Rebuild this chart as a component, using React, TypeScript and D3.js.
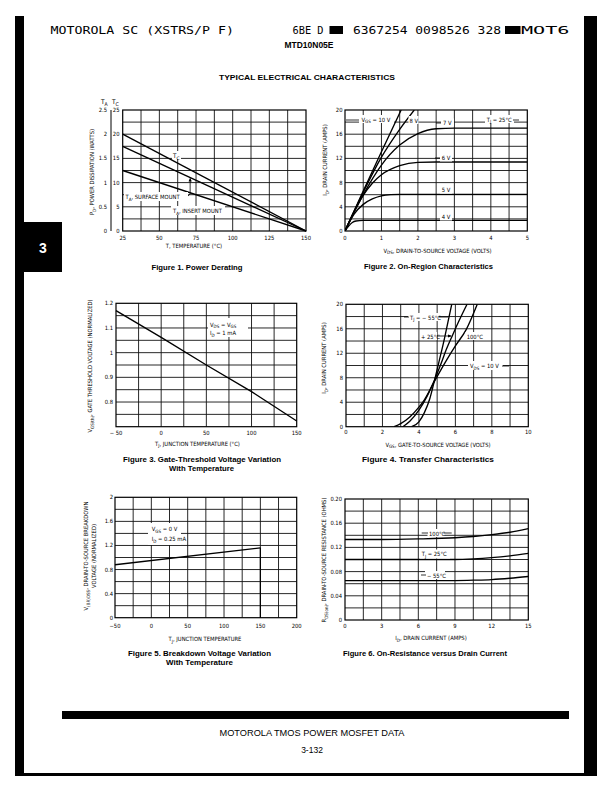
import React from "react";
import * as d3 from "d3";

const NARROW = "'Liberation Sans Narrow','DejaVu Sans Condensed','Arial Narrow',sans-serif";
const SANS = "'Liberation Sans',Arial,Helvetica,sans-serif";
const MONO = "'DejaVu Sans Mono','Liberation Mono',monospace";

// ---------------- Data ----------------
// Figure 1. Power Derating
const f1Temp = [25, 150];
const f1TC = [20, 0];
const f1SurfaceMount = [17.5, 0];
const f1InsertMount = [12.5, 0];
const f1XTicks = [25, 50, 75, 100, 125, 150];
const f1TCTicks = [0, 5, 10, 15, 20, 25];
const f1TATicks = [0, 0.5, 1, 1.5, 2, 2.5];
const f1TALabels = ["0", "0.5", "1", "1.5", "2", "2.5"];

// Figure 2. On-Region Characteristics
const f2XTicks = [0, 1, 2, 3, 4, 5];
const f2YTicks = [0, 4, 8, 12, 16, 20];
const f2Vds10 = [0, 0.5, 1.0, 1.54];
const f2Id10 = [0, 6.6, 13.1, 20];
const f2Vds8 = [0, 0.5, 1.0, 1.5, 1.9];
const f2Id8 = [0, 6.4, 12.2, 16.8, 20];
const f2Vds7 = [0, 0.5, 1.0, 1.5, 2.0, 2.5, 3, 5];
const f2Id7 = [0, 6.0, 10.9, 14.2, 16.1, 16.9, 17, 17];
const f2Vds6 = [0, 0.25, 0.5, 0.75, 1.0, 1.5, 2.0, 2.5, 5];
const f2Id6 = [0, 3.2, 5.9, 7.9, 9.3, 10.8, 11.35, 11.4, 11.4];
const f2Vds5 = [0, 0.25, 0.5, 0.75, 1.0, 1.25, 1.5, 5];
const f2Id5 = [0, 2.8, 4.4, 5.3, 5.8, 6.0, 6.05, 6.05];
const f2Vds4 = [0, 0.1, 0.2, 0.3, 0.5, 5];
const f2Id4 = [0, 0.8, 1.4, 1.65, 1.75, 1.75];

// Figure 3. Gate-Threshold Voltage Variation
const f3XTicks = [-50, 0, 50, 100, 150];
const f3XLabels = ["\u2212 50", "0", "50", "100", "150"];
const f3YTicks = [0.8, 0.9, 1, 1.1, 1.2];
const f3YLabels = ["0.8", "0.9", "1", "1.1", "1.2"];
const f3Temp = [-50, 0, 50, 100, 150];
const f3Vth = [1.17, 1.062, 0.95, 0.842, 0.723];

// Figure 4. Transfer Characteristics
const f4XTicks = [0, 2, 4, 6, 8, 10];
const f4YTicks = [0, 4, 8, 12, 16, 20];
const f4VgsM55 = [3.6, 4.0, 4.3, 4.6, 4.85, 5.1, 5.4, 5.6, 5.8];
const f4IdM55 = [0, 0.8, 2.3, 4.6, 7.5, 10.6, 14.4, 17.2, 20];
const f4Vgs25 = [3.12, 3.5, 4.0, 4.45, 4.85, 5.2, 5.5, 5.85, 6.2, 6.64];
const f4Id25 = [0, 0.9, 2.7, 5.0, 7.6, 10.2, 12.6, 15, 17.3, 20];
const f4Vgs100 = [2.64, 3.0, 3.5, 4.0, 4.3, 4.85, 5.5, 6.0, 6.6, 7.2];
const f4Id100 = [0, 0.5, 1.6, 3.2, 4.4, 7.4, 10.8, 13.2, 15.9, 20];

// Figure 5. Breakdown Voltage Variation
const f5XTicks = [-50, 0, 50, 100, 150, 200];
const f5XLabels = ["\u221250", "0", "50", "100", "150", "200"];
const f5YTicks = [0, 0.4, 0.8, 1.2, 1.6, 2];
const f5YLabels = ["0", "0.4", "0.8", "1.2", "1.6", "2"];
const f5Temp = [-50, 150];
const f5BV = [0.88, 1.16];

// Figure 6. On-Resistance versus Drain Current
const f6XTicks = [0, 3, 6, 9, 12, 15];
const f6YTicks = [0, 0.04, 0.08, 0.12, 0.16, 0.2];
const f6YLabels = ["0", "0.04", "0.08", "0.12", "0.16", "0.20"];
const f6Id = [0, 3, 6, 9, 10.5, 12, 13.5, 15];
const f6R100 = [0.133, 0.133, 0.134, 0.136, 0.138, 0.141, 0.145, 0.151];
const f6R25 = [0.1, 0.1, 0.1, 0.1, 0.101, 0.103, 0.106, 0.11];
const f6RM55 = [0.065, 0.065, 0.065, 0.0652, 0.0658, 0.0668, 0.069, 0.072];

// ---------------- Helpers ----------------
type Part = string | [string];
function Rich({ parts, fs }: { parts: Part[]; fs: number }) {
  let sub = false;
  return (
    <>
      {parts.map((p, i) => {
        if (Array.isArray(p)) {
          const el = (
            <tspan key={i} dy={sub ? 0 : fs * 0.3} fontSize={fs * 0.78}>
              {p[0]}
            </tspan>
          );
          sub = true;
          return el;
        }
        const el = (
          <tspan key={i} dy={sub ? -fs * 0.3 : 0}>
            {p}
          </tspan>
        );
        sub = false;
        return el;
      })}
    </>
  );
}

function Txt(props: any) {
  const { x, y, fs = 6, anchor = "start", family = NARROW, weight = "normal", rotate = false, fill = "#000", len, parts, children } = props;
  return (
    <text
      x={x}
      y={y}
      fontSize={fs}
      fontFamily={family}
      fontWeight={weight}
      textAnchor={anchor}
      fill={fill}
      transform={rotate ? `rotate(-90 ${x} ${y})` : undefined}
      textLength={len}
      lengthAdjust={len ? "spacingAndGlyphs" : undefined}
    >
      {parts ? <Rich parts={parts} fs={fs} /> : children}
    </text>
  );
}

function Frame({ x, y, nx, ny }: any) {
  const [xa, xb] = x.domain();
  const [ya, yb] = y.domain();
  const [l, r] = x.range();
  const [b, t] = y.range();
  return (
    <g>
      {d3.range(1, nx).map((i) => {
        const px = x(xa + ((xb - xa) * i) / nx);
        return <line key={"gx" + i} x1={px} x2={px} y1={t} y2={b} stroke="#111" strokeWidth={0.9} />;
      })}
      {d3.range(1, ny).map((i) => {
        const py = y(ya + ((yb - ya) * i) / ny);
        return <line key={"gy" + i} x1={l} x2={r} y1={py} y2={py} stroke="#111" strokeWidth={0.9} />;
      })}
      <rect x={l} y={t} width={r - l} height={b - t} fill="none" stroke="#000" strokeWidth={1.2} />
    </g>
  );
}

function XLabels({ x, ticks, labels, y }: any) {
  return (
    <g>
      {ticks.map((v: number, i: number) => (
        <Txt key={i} x={x(v)} y={y} fs={5.8} anchor="middle">
          {labels ? labels[i] : String(v)}
        </Txt>
      ))}
    </g>
  );
}

function YLabels({ y, ticks, labels, x }: any) {
  return (
    <g>
      {ticks.map((v: number, i: number) => (
        <Txt key={i} x={x} y={y(v) + 2} fs={5.8} anchor="end">
          {labels ? labels[i] : String(v)}
        </Txt>
      ))}
    </g>
  );
}

function curvePath(x: any, y: any, xs: number[], ys: number[], smooth = true) {
  const pts = xs.map((v, i) => [v, ys[i]] as [number, number]);
  const gen = d3
    .line<[number, number]>()
    .x((d) => x(d[0]))
    .y((d) => y(d[1]));
  if (smooth) gen.curve(d3.curveMonotoneX);
  return gen(pts) || "";
}

function LabelBox({ x, y, w, h }: any) {
  return <rect x={x} y={y} width={w} height={h} fill="#fff" />;
}

const LINE = { fill: "none", stroke: "#000", strokeWidth: 1.35 };

// ---------------- Figures ----------------
function Fig1() {
  const x = d3.scaleLinear().domain([25, 150]).range([122.7, 306]);
  const y = d3.scaleLinear().domain([0, 25]).range([231, 110]);
  const yTA = d3.scaleLinear().domain([0, 2.5]).range([231, 110]);
  const surf = d3.scaleLinear().domain(f1Temp).range(f1SurfaceMount);
  const ax = x(71);
  const ay = y(surf(71));
  return (
    <g>
      <Frame x={x} y={y} nx={10} ny={10} />
      <path d={curvePath(x, y, f1Temp, f1TC, false)} {...LINE} />
      <path d={curvePath(x, y, f1Temp, f1SurfaceMount, false)} {...LINE} />
      <path d={curvePath(x, y, f1Temp, f1InsertMount, false)} {...LINE} />
      <LabelBox x={172} y={151} w={9} h={8} />
      <Txt x={173} y={158} fs={6.2} parts={["T", ["C"]]} />
      <LabelBox x={124} y={192} w={64} h={9} />
      <Txt x={125.5} y={199} fs={5.8} parts={["T", ["A"], ", SURFACE MOUNT"]} />
      <line x1={ax} x2={ax} y1={ay + 3} y2={194} stroke="#000" strokeWidth={0.8} />
      <line x1={188} x2={ax} y1={196} y2={194} stroke="#000" strokeWidth={0.8} />
      <polygon points={`${ax},${ay} ${ax - 1.6},${ay + 4} ${ax + 1.6},${ay + 4}`} fill="#000" />
      <LabelBox x={171} y={206} w={54} h={9} />
      <Txt x={173} y={213} fs={5.8} parts={["T", ["A"], ", INSERT MOUNT"]} />
      <line x1={111} x2={111} y1={110} y2={231} stroke="#000" strokeWidth={1} />
      <XLabels x={x} ticks={f1XTicks} y={240} />
      <YLabels y={y} ticks={f1TCTicks} x={119.5} />
      <YLabels y={yTA} ticks={f1TATicks} labels={f1TALabels} x={107} />
      <Txt x={101} y={104} fs={6.5} parts={["T", ["A"]]} />
      <Txt x={112} y={104} fs={6.5} parts={["T", ["C"]]} />
      <Txt x={94} y={172} fs={5.8} anchor="middle" rotate parts={["P", ["D"], ", POWER DISSIPATION (WATTS)"]} />
      <Txt x={194} y={248} fs={5.8} anchor="middle">T, TEMPERATURE (°C)</Txt>
      <Txt x={197} y={270} fs={7} anchor="middle" family={SANS} weight="bold" len={91}>
        Figure 1. Power Derating
      </Txt>
    </g>
  );
}

function Fig2() {
  const x = d3.scaleLinear().domain([0, 5]).range([345, 527.3]);
  const y = d3.scaleLinear().domain([0, 20]).range([231, 110]);
  return (
    <g>
      <Frame x={x} y={y} nx={10} ny={10} />
      <defs>
        <clipPath id="c2">
          <rect x={345} y={110} width={182.3} height={121} />
        </clipPath>
      </defs>
      <g clipPath="url(#c2)">
        <path d={curvePath(x, y, f2Vds10, f2Id10)} {...LINE} />
        <path d={curvePath(x, y, f2Vds8, f2Id8)} {...LINE} />
        <path d={curvePath(x, y, f2Vds7, f2Id7)} {...LINE} />
        <path d={curvePath(x, y, f2Vds6, f2Id6)} {...LINE} />
        <path d={curvePath(x, y, f2Vds5, f2Id5)} {...LINE} />
        <path d={curvePath(x, y, f2Vds4, f2Id4)} {...LINE} />
      </g>
      <LabelBox x={359} y={115} w={35} h={8} />
      <line x1={346} x2={359} y1={120} y2={120} stroke="#000" strokeWidth={0.8} />
      <Txt x={361.5} y={121.5} fs={5.8} parts={["V", ["GS"], " = 10 V"]} />
      <LabelBox x={408.5} y={116} w={10} h={8} />
      <Txt x={409.5} y={122.5} fs={5.8}>8 V</Txt>
      <LabelBox x={441} y={118.5} w={13} h={8} />
      <line x1={436} x2={441} y1={123} y2={123} stroke="#000" strokeWidth={0.8} />
      <Txt x={443} y={125} fs={5.8}>7 V</Txt>
      <LabelBox x={440} y={153.5} w={12} h={8} />
      <line x1={435} x2={440} y1={158} y2={158} stroke="#000" strokeWidth={0.8} />
      <Txt x={441.7} y={160} fs={5.8}>6 V</Txt>
      <LabelBox x={440} y={185.5} w={12} h={8} />
      <Txt x={441.7} y={192} fs={5.8}>5 V</Txt>
      <LabelBox x={440} y={212.5} w={12} h={8} />
      <Txt x={441.7} y={219} fs={5.8}>4 V</Txt>
      <LabelBox x={485} y={115} w={29} h={8} />
      <Txt x={486.7} y={121.5} fs={5.8} parts={["T", ["J"], " = 25°C"]} />
      <line x1={513} x2={519} y1={120} y2={120} stroke="#000" strokeWidth={0.8} />
      <XLabels x={x} ticks={f2XTicks} y={240} />
      <YLabels y={y} ticks={f2YTicks} x={342.5} />
      <Txt x={327} y={160} fs={5.8} anchor="middle" rotate parts={["I", ["D"], ", DRAIN CURRENT (AMPS)"]} />
      <Txt x={437.5} y={252.5} fs={5.8} anchor="middle" parts={["V", ["DS"], ", DRAIN-TO-SOURCE VOLTAGE (VOLTS)"]} />
      <Txt x={428.5} y={268.5} fs={7} anchor="middle" family={SANS} weight="bold" len={129}>
        Figure 2. On-Region Characteristics
      </Txt>
    </g>
  );
}

function Fig3() {
  const x = d3.scaleLinear().domain([-50, 150]).range([116, 296.7]);
  const y = d3.scaleLinear().domain([0.7, 1.2]).range([426.7, 303.3]);
  return (
    <g>
      <Frame x={x} y={y} nx={8} ny={10} />
      <path d={curvePath(x, y, f3Temp, f3Vth, false)} {...LINE} />
      <LabelBox x={208} y={318} w={40} h={19} />
      <Txt x={210} y={326.5} fs={5.8} parts={["V", ["DS"], " = V", ["GS"]]} />
      <Txt x={210} y={335} fs={5.8} parts={["I", ["D"], " = 1 mA"]} />
      <XLabels x={x} ticks={f3XTicks} labels={f3XLabels} y={435} />
      <YLabels y={y} ticks={f3YTicks} labels={f3YLabels} x={113} />
      <Txt x={92} y={366} fs={5.8} anchor="middle" rotate parts={["V", ["GS(th)"], ", GATE THRESHOLD VOLTAGE (NORMALIZED)"]} />
      <Txt x={197.5} y={445.5} fs={5.8} anchor="middle" parts={["T", ["J"], ", JUNCTION TEMPERATURE (°C)"]} />
      <Txt x={202} y={461.5} fs={7} anchor="middle" family={SANS} weight="bold" len={158}>
        Figure 3. Gate-Threshold Voltage Variation
      </Txt>
      <Txt x={201.5} y={470.5} fs={7} anchor="middle" family={SANS} weight="bold" len={65}>
        With Temperature
      </Txt>
    </g>
  );
}

function Fig4() {
  const x = d3.scaleLinear().domain([0, 10]).range([346, 528.3]);
  const y = d3.scaleLinear().domain([0, 20]).range([426.7, 304.3]);
  return (
    <g>
      <Frame x={x} y={y} nx={10} ny={10} />
      <defs>
        <clipPath id="c4">
          <rect x={346} y={304.3} width={182.3} height={122.4} />
        </clipPath>
      </defs>
      <g clipPath="url(#c4)">
        <path d={curvePath(x, y, f4VgsM55, f4IdM55)} {...LINE} />
        <path d={curvePath(x, y, f4Vgs25, f4Id25)} {...LINE} />
        <path d={curvePath(x, y, f4Vgs100, f4Id100)} {...LINE} />
      </g>
      <LabelBox x={408} y={313} w={31} h={8} />
      <line x1={404} x2={409} y1={317} y2={317} stroke="#000" strokeWidth={0.8} />
      <Txt x={410} y={319.5} fs={5.8} parts={["T", ["J"], " = \u2212 55°C"]} />
      <line x1={438.5} x2={448} y1={317} y2={317} stroke="#000" strokeWidth={0.8} />
      <LabelBox x={420} y={332} w={17} h={8} />
      <Txt x={421} y={338.5} fs={5.8}>+ 25°C</Txt>
      <line x1={437} x2={451} y1={336} y2={336} stroke="#000" strokeWidth={0.8} />
      <polygon points="452,336 448,334.4 448,337.6" fill="#000" />
      <LabelBox x={465.5} y={332} w={16} h={8} />
      <Txt x={466.7} y={338.5} fs={5.8}>100°C</Txt>
      <LabelBox x={468} y={361} w={35} h={9} />
      <Txt x={470} y={368} fs={5.8} parts={["V", ["DS"], " = 10 V"]} />
      <line x1={502} x2={509} y1={366} y2={366} stroke="#000" strokeWidth={0.8} />
      <XLabels x={x} ticks={f4XTicks} y={434} />
      <YLabels y={y} ticks={f4YTicks} x={343} />
      <Txt x={326} y={358} fs={5.8} anchor="middle" rotate parts={["I", ["D"], ", DRAIN CURRENT (AMPS)"]} />
      <Txt x={438} y={446.5} fs={5.8} anchor="middle" parts={["V", ["GS"], ", GATE-TO-SOURCE VOLTAGE (VOLTS)"]} />
      <Txt x={428} y={461.5} fs={7} anchor="middle" family={SANS} weight="bold" len={132}>
        Figure 4. Transfer Characteristics
      </Txt>
    </g>
  );
}

function Fig5() {
  const x = d3.scaleLinear().domain([-50, 200]).range([115, 296.7]);
  const y = d3.scaleLinear().domain([0, 2]).range([617.7, 497.3]);
  return (
    <g>
      <Frame x={x} y={y} nx={10} ny={10} />
      <path d={curvePath(x, y, f5Temp, f5BV, false)} {...LINE} />
      <line x1={x(150)} x2={x(150)} y1={y(f5BV[1])} y2={617.7} stroke="#000" strokeWidth={1.2} />
      <LabelBox x={148} y={523} w={33} h={22} />
      <Txt x={151.7} y={531} fs={5.8} parts={["V", ["GS"], " = 0 V"]} />
      <Txt x={151.7} y={541} fs={5.8} parts={["I", ["D"], " = 0.25 mA"]} />
      <XLabels x={x} ticks={f5XTicks} labels={f5XLabels} y={628} />
      <YLabels y={y} ticks={f5YTicks} labels={f5YLabels} x={113} />
      <Txt x={88} y={556} fs={5.8} anchor="middle" rotate parts={["V", ["(BR)DSS"], ", DRAIN-TO-SOURCE BREAKDOWN"]} />
      <Txt x={95.5} y={556} fs={5.8} anchor="middle" rotate>VOLTAGE (NORMALIZED)</Txt>
      <Txt x={205} y={641} fs={5.8} anchor="middle" parts={["T", ["J"], ", JUNCTION TEMPERATURE"]} />
      <Txt x={199.5} y={655.5} fs={7} anchor="middle" family={SANS} weight="bold" len={143}>
        Figure 5. Breakdown Voltage Variation
      </Txt>
      <Txt x={199.5} y={664.5} fs={7} anchor="middle" family={SANS} weight="bold" len={67}>
        With Temperature
      </Txt>
    </g>
  );
}

function Fig6() {
  const x = d3.scaleLinear().domain([0, 15]).range([345, 528.3]);
  const y = d3.scaleLinear().domain([0, 0.2]).range([620, 499]);
  return (
    <g>
      <Frame x={x} y={y} nx={10} ny={10} />
      <path d={curvePath(x, y, f6Id, f6R100)} {...LINE} />
      <path d={curvePath(x, y, f6Id, f6R25)} {...LINE} />
      <path d={curvePath(x, y, f6Id, f6RM55)} {...LINE} />
      <LabelBox x={427.5} y={529} w={17} h={8} />
      <line x1={421.7} x2={428} y1={533} y2={533} stroke="#000" strokeWidth={0.8} />
      <Txt x={429} y={535.5} fs={5.8}>100°C</Txt>
      <line x1={443.5} x2={451.7} y1={533} y2={533} stroke="#000" strokeWidth={0.8} />
      <LabelBox x={420} y={549.5} w={30} h={9} />
      <Txt x={421.7} y={556} fs={5.8} parts={["T", ["J"], " = 25°C"]} />
      <LabelBox x={425} y={571} w={20} h={8} />
      <line x1={421} x2={426} y1={575} y2={575} stroke="#000" strokeWidth={0.8} />
      <Txt x={427} y={577.5} fs={5.8}>{"\u2212 55°C"}</Txt>
      <XLabels x={x} ticks={f6XTicks} y={628} />
      <YLabels y={y} ticks={f6YTicks} labels={f6YLabels} x={342} />
      <Txt x={326} y={560} fs={5.8} anchor="middle" rotate parts={["R", ["DS(on)"], ", DRAIN-TO-SOURCE RESISTANCE (OHMS)"]} />
      <Txt x={431} y={640} fs={5.8} anchor="middle" parts={["I", ["D"], ", DRAIN CURRENT (AMPS)"]} />
      <Txt x={425} y={655.5} fs={7} anchor="middle" family={SANS} weight="bold" len={164}>
        Figure 6. On-Resistance versus Drain Current
      </Txt>
    </g>
  );
}

export default function App() {
  return (
    <svg
      width={612}
      height={792}
      viewBox="0 0 612 792"
      style={{ position: "absolute", left: 0, top: 0, background: "#fff" }}
    >
      <rect x={0} y={0} width={612} height={792} fill="#fff" />
      {/* page edges */}
      <rect x={15} y={16} width={9} height={760} fill="#000" />
      <rect x={584} y={16} width={13} height={760} fill="#000" />
      <rect x={15} y={773} width={582} height={3} fill="#000" />
      <rect x={15} y={222} width={47} height={50} fill="#000" />
      <Txt x={43} y={253} fs={14} anchor="middle" family={SANS} weight="bold" fill="#fff">3</Txt>

      {/* header */}
      <Txt x={50.5} y={34} fs={11} family={MONO} len={183.5}>MOTOROLA SC (XSTRS/P F)</Txt>
      <Txt x={292.5} y={34} fs={11} family={MONO} len={31}>6BE D</Txt>
      <rect x={329.5} y={26} width={13.5} height={8} fill="#000" />
      <Txt x={353} y={34} fs={11} family={MONO} len={148}>6367254 0098526 328</Txt>
      <rect x={505} y={26} width={15.5} height={8} fill="#000" />
      <Txt x={521} y={34} fs={11} family={MONO} len={48.5}>MOT6</Txt>
      <Txt x={309} y={48} fs={8.5} anchor="middle" family={SANS} weight="bold" len={49}>MTD10N05E</Txt>
      <Txt x={307} y={80} fs={7.5} anchor="middle" family={SANS} weight="bold" len={176}>TYPICAL ELECTRICAL CHARACTERISTICS</Txt>

      <Fig1 />
      <Fig2 />
      <Fig3 />
      <Fig4 />
      <Fig5 />
      <Fig6 />

      {/* footer */}
      <rect x={62} y={711} width={507} height={8} fill="#000" />
      <Txt x={312} y={736} fs={8.5} anchor="middle" family={SANS} len={185}>MOTOROLA TMOS POWER MOSFET DATA</Txt>
      <Txt x={312} y={753} fs={8.5} anchor="middle" family={SANS}>3-132</Txt>
    </svg>
  );
}
